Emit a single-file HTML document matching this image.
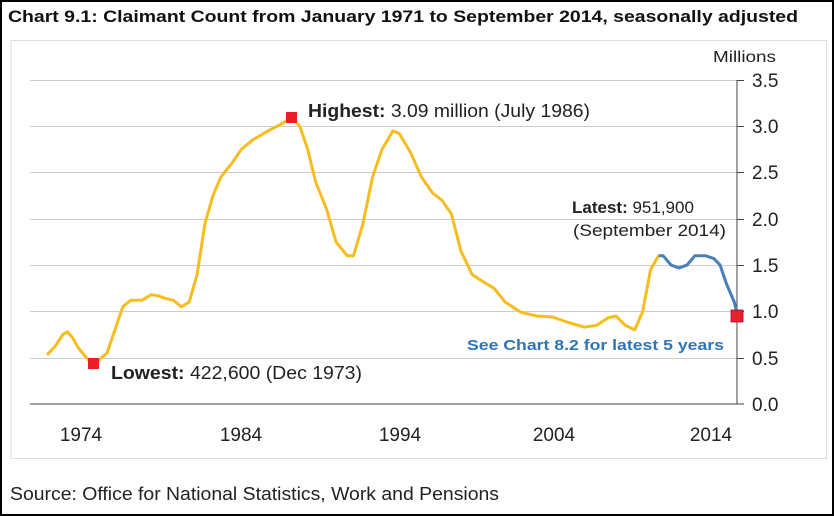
<!DOCTYPE html>
<html><head><meta charset="utf-8"><style>
html,body{margin:0;padding:0;background:#000;}
#w{position:relative;width:830px;height:512px;margin:2px;background:#fff;overflow:hidden;font-family:"Liberation Sans",Arial,sans-serif;}
</style></head><body><div id="w">
<svg width="830" height="512" viewBox="2 2 830 512" xmlns="http://www.w3.org/2000/svg" font-family="Liberation Sans, Arial, sans-serif">
<text x="8" y="22" font-size="17" font-weight="bold" fill="#111" textLength="790" lengthAdjust="spacingAndGlyphs">Chart 9.1: Claimant Count from January 1971 to September 2014, seasonally adjusted</text>
<rect x="11" y="40.5" width="815.5" height="418" fill="#fff" stroke="#ddd" stroke-width="1"/>
<g stroke="#ccc" stroke-width="1">
<line x1="30" x2="737" y1="80.5" y2="80.5"/><line x1="30" x2="737" y1="126.5" y2="126.5"/><line x1="30" x2="737" y1="172.5" y2="172.5"/><line x1="30" x2="737" y1="219.5" y2="219.5"/><line x1="30" x2="737" y1="265.5" y2="265.5"/><line x1="30" x2="737" y1="311.5" y2="311.5"/><line x1="30" x2="737" y1="358.5" y2="358.5"/>
</g>
<line x1="30" x2="744" y1="404" y2="404" stroke="#444"/>
<line x1="737" x2="737" y1="80" y2="404" stroke="#444"/>
<g stroke="#444"><line x1="737" x2="744" y1="80.5" y2="80.5"/><line x1="737" x2="744" y1="126.5" y2="126.5"/><line x1="737" x2="744" y1="172.5" y2="172.5"/><line x1="737" x2="744" y1="219.5" y2="219.5"/><line x1="737" x2="744" y1="265.5" y2="265.5"/><line x1="737" x2="744" y1="311.5" y2="311.5"/><line x1="737" x2="744" y1="358.5" y2="358.5"/></g>
<g font-size="19" fill="#222">
<text x="752" y="87">3.5</text><text x="752" y="133">3.0</text><text x="752" y="179">2.5</text><text x="752" y="226">2.0</text><text x="752" y="272">1.5</text><text x="752" y="318">1.0</text><text x="752" y="365">0.5</text><text x="752" y="411">0.0</text>
<text x="81" y="441" text-anchor="middle">1974</text><text x="241" y="441" text-anchor="middle">1984</text><text x="400" y="441" text-anchor="middle">1994</text><text x="554" y="441" text-anchor="middle">2004</text><text x="711" y="441" text-anchor="middle">2014</text>
</g>
<text x="713" y="62" font-size="16" fill="#222" textLength="63" lengthAdjust="spacingAndGlyphs">Millions</text>
<polyline id="y" fill="none" stroke="#f5bd1f" stroke-width="3" stroke-linejoin="round"/>
<polyline id="b" fill="none" stroke="#4a7ebb" stroke-width="3" stroke-linejoin="round"/>
<rect x="286" y="112" width="11" height="11" fill="#e8202a"/>
<rect x="88" y="358" width="11" height="11" fill="#e8202a"/>
<rect x="731" y="310" width="12" height="12" fill="#e8202a" stroke="#a05" stroke-width="0.8"/>
<text x="308" y="117" font-size="18" fill="#222" textLength="282" lengthAdjust="spacingAndGlyphs"><tspan font-weight="bold">Highest:</tspan> 3.09 million (July 1986)</text>
<text x="111" y="379" font-size="18" fill="#222" textLength="251" lengthAdjust="spacingAndGlyphs"><tspan font-weight="bold">Lowest:</tspan> 422,600 (Dec 1973)</text>
<text x="572" y="213" font-size="17" fill="#222"><tspan font-weight="bold">Latest:</tspan>  951,900</text>
<text x="573" y="236" font-size="17" fill="#222" textLength="153" lengthAdjust="spacingAndGlyphs">(September 2014)</text>
<text x="467" y="350" font-size="15" font-weight="bold" fill="#2e75b6" textLength="257" lengthAdjust="spacingAndGlyphs">See Chart 8.2 for latest 5 years</text>
<text x="10" y="500" font-size="18" fill="#222" textLength="489" lengthAdjust="spacingAndGlyphs">Source: Office for National Statistics, Work and Pensions</text>
</svg>
<script>
var d=[[1971,.53],[1971.5,.62],[1972,.75],[1972.3,.78],[1972.6,.72],[1973,.6],[1973.5,.5],[1973.9,.42],[1974.3,.48],[1974.8,.55],[1975.3,.8],[1975.8,1.05],[1976.3,1.12],[1977,1.12],[1977.6,1.18],[1978,1.17],[1978.5,1.14],[1979,1.12],[1979.5,1.05],[1980,1.1],[1980.5,1.4],[1981,1.95],[1981.5,2.25],[1982,2.45],[1982.7,2.6],[1983.3,2.75],[1984,2.85],[1985,2.95],[1985.8,3.02],[1986.5,3.09],[1987,3.0],[1987.5,2.75],[1988,2.4],[1988.7,2.1],[1989.3,1.75],[1990,1.6],[1990.4,1.6],[1991,1.95],[1991.6,2.45],[1992.2,2.75],[1992.9,2.95],[1993.3,2.92],[1994,2.72],[1994.7,2.45],[1995.4,2.28],[1996,2.2],[1996.6,2.05],[1997.2,1.65],[1997.9,1.4],[1998.5,1.33],[1999.3,1.25],[2000,1.1],[2001,.99],[2002,.95],[2003,.94],[2004,.88],[2005,.83],[2005.8,.85],[2006.5,.93],[2007,.95],[2007.6,.85],[2008.2,.8],[2008.7,1.0],[2009.2,1.45],[2009.7,1.6]];
var e=[[2009.7,1.6],[2010,1.6],[2010.5,1.5],[2011,1.47],[2011.5,1.5],[2012,1.6],[2012.7,1.6],[2013.2,1.57],[2013.6,1.5],[2014,1.3],[2014.5,1.1],[2014.72,.95]];
function p(a){return a.map(function(q){return (47+(q[0]-1971)*15.8).toFixed(1)+','+(404-q[1]*92.6).toFixed(1)}).join(' ')}
document.getElementById('y').setAttribute('points',p(d));
document.getElementById('b').setAttribute('points',p(e));
</script>
</div></body></html>
